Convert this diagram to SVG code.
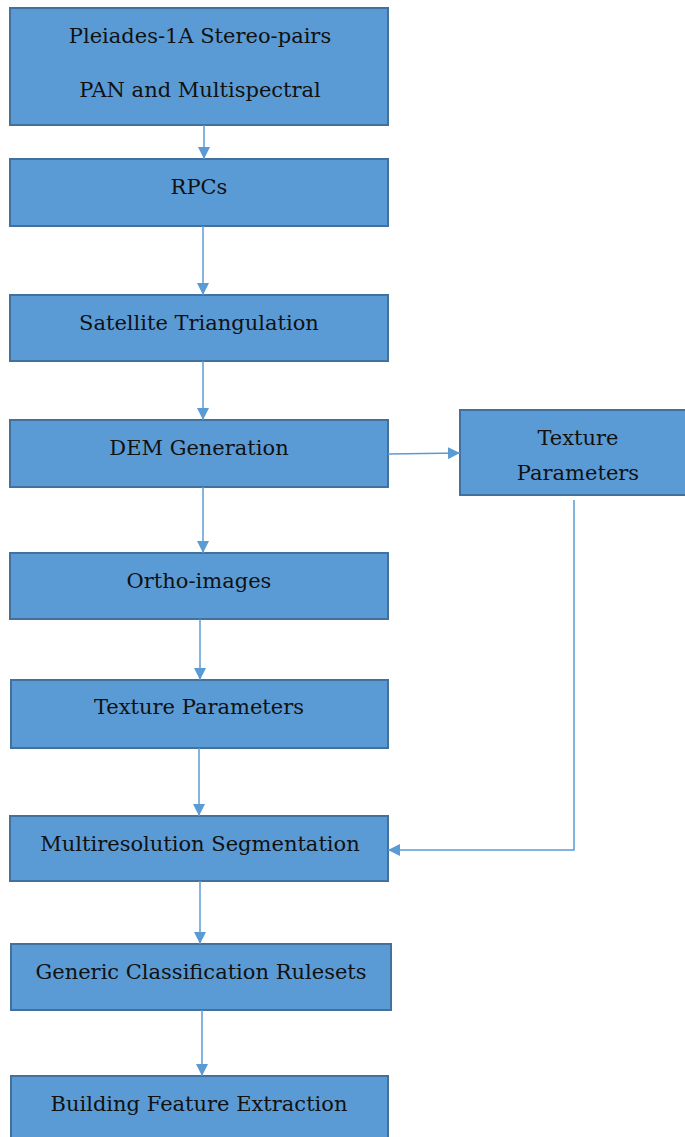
<svg xmlns="http://www.w3.org/2000/svg" width="685" height="1137" viewBox="0 0 685 1137">
<style>
.box{fill:#5b9bd5;stroke:#41719c;stroke-width:2}
.t{font-family:"DejaVu Serif","Liberation Serif",serif;font-size:21px;fill:#111;text-anchor:middle;dominant-baseline:central}
.c{fill:none;stroke:#5b9bd5;stroke-width:1.5}
</style>
<defs>
<marker id="ah" viewBox="0 0 12 12" refX="12" refY="6" markerWidth="12" markerHeight="12" markerUnits="userSpaceOnUse" orient="auto">
<path d="M0,0 L12,6 L0,12 Z" fill="#5b9bd5"/>
</marker>
</defs>
<rect width="685" height="1137" fill="#fff"/>
<g id="n1"><rect class="box" x="10" y="8" width="378" height="117"/><text class="t" x="200" y="36">Pleiades-1A Stereo-pairs</text><text class="t" x="200" y="90">PAN and Multispectral</text></g>
<g id="n2"><rect class="box" x="10" y="159" width="378" height="67"/><text class="t" x="199" y="187">RPCs</text></g>
<g id="n3"><rect class="box" x="10" y="295" width="378" height="66"/><text class="t" x="199" y="323">Satellite Triangulation</text></g>
<g id="n4"><rect class="box" x="10" y="420" width="378" height="67"/><text class="t" x="199" y="448">DEM Generation</text></g>
<g id="n10"><rect class="box" x="460" y="410" width="226" height="85"/><text class="t" x="578" y="438">Texture</text><text class="t" x="578" y="473">Parameters</text></g>
<g id="n5"><rect class="box" x="10" y="553" width="378" height="66"/><text class="t" x="199" y="581">Ortho-images</text></g>
<g id="n6"><rect class="box" x="11" y="680" width="377" height="68"/><text class="t" x="199" y="707">Texture Parameters</text></g>
<g id="n7"><rect class="box" x="10" y="816" width="378" height="65"/><text class="t" x="200" y="844">Multiresolution Segmentation</text></g>
<g id="n8"><rect class="box" x="11" y="944" width="380" height="66"/><text class="t" x="201" y="972">Generic Classification Rulesets</text></g>
<g id="n9"><rect class="box" x="11" y="1076" width="377" height="70"/><text class="t" x="199" y="1104">Building Feature Extraction</text></g>
<g id="connectors">
<path class="c" d="M204,125 V159" marker-end="url(#ah)"/>
<path class="c" d="M203,226 V295" marker-end="url(#ah)"/>
<path class="c" d="M203,361 V420" marker-end="url(#ah)"/>
<path class="c" d="M203,487 V553" marker-end="url(#ah)"/>
<path class="c" d="M200,619 V680" marker-end="url(#ah)"/>
<path class="c" d="M199,748 V816" marker-end="url(#ah)"/>
<path class="c" d="M200,881 V944" marker-end="url(#ah)"/>
<path class="c" d="M202,1010 V1076" marker-end="url(#ah)"/>
<path class="c" d="M388,454 L460,453" marker-end="url(#ah)"/>
<path class="c" d="M574,500 V850 H388" marker-end="url(#ah)"/>
</g>
</svg>
